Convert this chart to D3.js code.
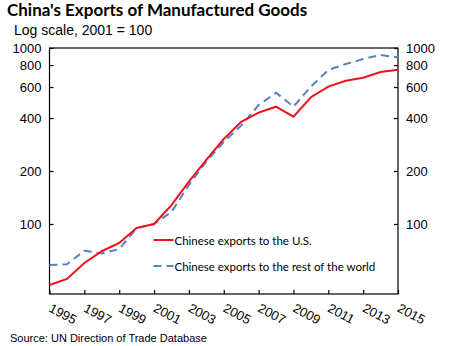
<!DOCTYPE html>
<html lang="en">
<head>
  <meta charset="UTF-8">
  <title>China's Exports of Manufactured Goods</title>
  <script src="https://cdnjs.cloudflare.com/ajax/libs/d3/7.8.5/d3.min.js"></script>
  <style>
    body {
      margin: 0;
      background-color: white;
    }
    .line {
      fill: none;
      stroke-width: 2px;
    }
  </style>
</head>
<body>
  <div id="graph"></div>
  <script>
    // index, 2001 = 100
    var years = [1995, 1996, 1997, 1998, 1999, 2000, 2001, 2002, 2003, 2004, 2005,
                 2006, 2007, 2008, 2009, 2010, 2011, 2012, 2013, 2014, 2015];
    var toUS = [45, 48.7, 60, 70, 78, 95, 100, 128, 174, 231, 304,
                381, 429, 464, 407, 525, 603, 652, 677, 730, 753];
    var toRestOfWorld = [58.5, 59, 70.5, 68, 72, 94.5, 100, 117, 167, 226, 293,
                         362, 474, 557, 464, 603, 750, 811, 866, 912, 885];
    var yTicks = [100, 200, 400, 600, 800, 1000];
    var xTicks = [1995, 1997, 1999, 2001, 2003, 2005, 2007, 2009, 2011, 2013, 2015];
    var seriesNames = ["Chinese exports to the U.S.", "Chinese exports to the rest of the world"];

    var W = 457, H = 346;
    var margin = {top: 48, right: 59, bottom: 52, left: 49.5},
        width = W - margin.left - margin.right,
        height = H - margin.top - margin.bottom;

    var arial = "'Liberation Sans', Arial, sans-serif";
    var calibri = "Lato, 'Open Sans', sans-serif";

    var x = d3.scaleLinear().domain([1995, 2015]).range([0, width]);
    var y = d3.scaleLog().domain([40, 1000]).range([height, 0]);

    var root = d3.select("#graph").append("svg")
        .attr("width", W)
        .attr("height", H);

    // title block
    root.append("text")
        .attr("x", 7).attr("y", 16)
        .attr("font-family", calibri).attr("font-weight", "bold").attr("font-size", 17)
        .text("China's Exports of Manufactured Goods");
    root.append("text")
        .attr("x", 14).attr("y", 35)
        .attr("font-family", arial).attr("font-size", 14)
        .text("Log scale, 2001 = 100");
    root.append("text")
        .attr("x", 10).attr("y", 341.5)
        .attr("font-family", arial).attr("font-size", 11)
        .text("Source: UN Direction of Trade Database");

    var svg = root.append("g")
        .attr("transform", "translate(" + margin.left + "," + margin.top + ")");

    // frame
    svg.append("rect")
        .attr("width", width).attr("height", height)
        .attr("fill", "none").attr("stroke", "black").attr("stroke-width", 1.2);

    // axes, ticks pointing into the frame
    var left = svg.append("g")
        .call(d3.axisLeft(y).tickValues(yTicks).tickFormat(d3.format("d"))
          .tickSize(-4).tickPadding(8));

    var right = svg.append("g")
        .attr("transform", "translate(" + width + ",0)")
        .call(d3.axisRight(y).tickValues(yTicks).tickFormat(d3.format("d"))
          .tickSize(-4).tickPadding(8));

    var bottom = svg.append("g")
        .attr("transform", "translate(0," + height + ")")
        .call(d3.axisBottom(x).tickValues(xTicks).tickFormat(d3.format("d"))
          .tickSize(-4));
    bottom.selectAll(".tick text")
        .attr("text-anchor", "start")
        .attr("dy", null)
        .attr("y", 0)
        .attr("transform", "translate(-2,17) rotate(28)");

    [left, right, bottom].forEach(function(g) {
      g.select(".domain").remove();
      g.attr("font-family", arial).attr("font-size", 13);
      g.selectAll(".tick line").attr("stroke", "black").attr("stroke-width", 1.2);
      g.selectAll(".tick text").attr("fill", "black");
    });

    var line = d3.line()
        .x(function(d, i) { return x(years[i]); })
        .y(function(d) { return y(d); });

    svg.append("path")
        .datum(toRestOfWorld)
        .attr("class", "line")
        .attr("stroke", "#5583bf")
        .attr("stroke-dasharray", "8,5")
        .attr("d", line);

    svg.append("path")
        .datum(toUS)
        .attr("class", "line")
        .attr("stroke", "#f0101e")
        .attr("d", line);

    // legend
    var legend = svg.append("g")
        .attr("transform", "translate(104,192)");
    var rows = legend.selectAll("g").data(seriesNames).enter().append("g")
        .attr("transform", function(d, i) { return "translate(0," + (i * 26) + ")"; });
    rows.append("line")
        .attr("x1", 0).attr("x2", 20)
        .attr("stroke", function(d, i) { return i ? "#5583bf" : "#f0101e"; })
        .attr("stroke-width", 2)
        .attr("stroke-dasharray", function(d, i) { return i ? "8,5" : null; });
    rows.append("text")
        .attr("x", 21).attr("y", 4.5)
        .attr("font-family", calibri).attr("font-size", 11.5)
        .text(function(d) { return d; });
  </script>
</body>
</html>
